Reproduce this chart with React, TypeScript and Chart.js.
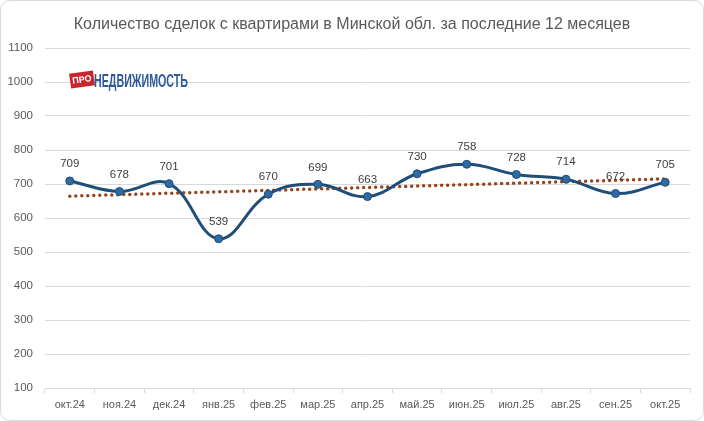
import { useEffect, useRef } from 'react';
import { Chart, registerables } from 'chart.js';

Chart.register(...registerables);

const months = [
  'окт.24', 'ноя.24', 'дек.24', 'янв.25', 'фев.25', 'мар.25', 'апр.25',
  'май.25', 'июн.25', 'июл.25', 'авг.25', 'сен.25', 'окт.25',
];
const deals = [709, 678, 701, 539, 670, 699, 663, 730, 758, 728, 714, 672, 705];
const yTicks = [100, 200, 300, 400, 500, 600, 700, 800, 900, 1000, 1100];
const titleText = 'Количество сделок с квартирами в Минской обл. за последние 12 месяцев';

const FONT = '"Liberation Sans", Arial, sans-serif';

// linear trend (Excel "linear trendline") computed from the series
function linearTrend(values: number[]): number[] {
  const n = values.length;
  const mx = (n - 1) / 2;
  const my = values.reduce((a, b) => a + b, 0) / n;
  let sxy = 0;
  let sxx = 0;
  values.forEach((v, i) => {
    sxy += (i - mx) * (v - my);
    sxx += (i - mx) * (i - mx);
  });
  const k = sxy / sxx;
  return values.map((_, i) => my + k * (i - mx));
}

const decorPlugin = {
  id: 'decor',
  afterDraw(chart: any) {
    const ctx = chart.ctx as CanvasRenderingContext2D;
    ctx.save();

    // title
    ctx.fillStyle = '#595959';
    ctx.font = `16px ${FONT}`;
    ctx.textAlign = 'center';
    ctx.textBaseline = 'middle';
    ctx.fillText(titleText, 352, 25);

    // value labels over the main series
    const meta = chart.getDatasetMeta(0);
    ctx.fillStyle = '#404040';
    ctx.font = `11.5px ${FONT}`;
    meta.data.forEach((pt: any, i: number) => {
      ctx.fillText(String(deals[i]), pt.x, pt.y - 17);
    });

    // logo
    ctx.save();
    ctx.translate(82, 79.5);
    ctx.rotate((-8 * Math.PI) / 180);
    ctx.fillStyle = '#c9252c';
    ctx.fillRect(-12, -7.5, 24, 15);
    ctx.fillStyle = '#ffffff';
    ctx.font = `bold 9px ${FONT}`;
    ctx.fillText('ПРО', 0, 0.5);
    ctx.restore();

    ctx.font = `bold 18px ${FONT}`;
    ctx.textAlign = 'left';
    ctx.textBaseline = 'alphabetic';
    const word = 'НЕДВИЖИМОСТЬ';
    const w = ctx.measureText(word).width;
    ctx.translate(94, 86.5);
    ctx.scale(94 / w, 1);
    ctx.fillStyle = '#2d5a96';
    ctx.fillText(word, 0, 0);

    ctx.restore();
  },
};

export default function App() {
  const canvasRef = useRef<HTMLCanvasElement>(null);
  const chartRef = useRef<Chart | null>(null);

  useEffect(() => {
    document.body.style.margin = '0';
    if (!canvasRef.current) return;
    if (chartRef.current) {
      chartRef.current.destroy();
      chartRef.current = null;
    }

    chartRef.current = new Chart(canvasRef.current, {
      type: 'line',
      data: {
        labels: months,
        datasets: [
          {
            label: 'Сделки',
            data: deals,
            borderColor: '#1f4e79',
            borderWidth: 3,
            tension: 0.4,
            pointRadius: 4,
            pointBackgroundColor: '#2e6aa3',
            pointBorderColor: '#1f4e79',
            pointBorderWidth: 1,
            fill: false,
          },
          {
            label: 'Тренд',
            data: linearTrend(deals),
            borderColor: '#94451a',
            borderWidth: 3.5,
            borderDash: [0, 6],
            borderCapStyle: 'round',
            pointRadius: 0,
            tension: 0,
            fill: false,
          },
        ],
      },
      options: {
        responsive: true,
        maintainAspectRatio: false,
        animation: false,
        layout: { padding: { top: 48, right: 14, left: 0, bottom: 0 } },
        plugins: {
          legend: { display: false },
          title: { display: false },
          tooltip: { enabled: false },
        },
        scales: {
          x: {
            offset: true,
            grid: {
              offset: true,
              drawOnChartArea: false,
              drawTicks: true,
              tickLength: 5,
              color: '#d9d9d9',
            },
            border: { display: true, color: '#d9d9d9' },
            ticks: {
              color: '#595959',
              font: { family: FONT, size: 11 },
              padding: 5,
              maxRotation: 0,
              autoSkip: false,
            },
            afterFit(scale: any) {
              scale.height = 33;
            },
          },
          y: {
            min: 100,
            max: 1100,
            afterBuildTicks(scale: any) {
              scale.ticks = yTicks.map((v) => ({ value: v }));
            },
            grid: { color: '#d9d9d9', drawTicks: false },
            border: { display: false },
            ticks: {
              color: '#595959',
              font: { family: FONT, size: 11.5 },
              padding: 12,
              callback: (v: any) => String(v),
            },
            afterFit(scale: any) {
              scale.width = 45;
            },
          },
        },
      },
      plugins: [decorPlugin],
    });

    return () => {
      if (chartRef.current) {
        chartRef.current.destroy();
        chartRef.current = null;
      }
    };
  }, []);

  return (
    <div style={{ position: 'relative', width: 704, height: 421, background: '#fff' }}>
      <div style={{ position: 'absolute', inset: 0 }}>
        <canvas ref={canvasRef} />
      </div>
      <div
        style={{
          position: 'absolute',
          inset: 0,
          border: '1px solid #d9d9d9',
          borderRadius: 10,
          pointerEvents: 'none',
        }}
      />
    </div>
  );
}
